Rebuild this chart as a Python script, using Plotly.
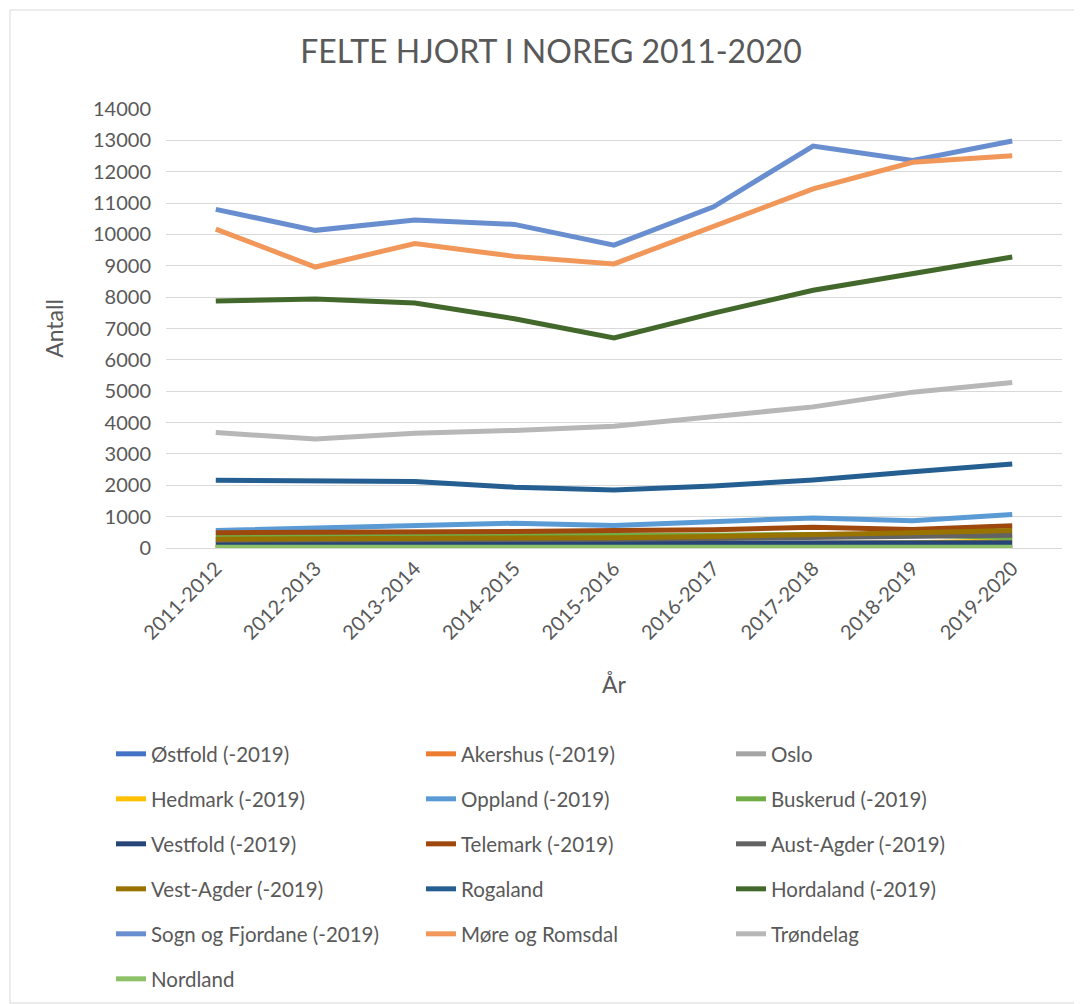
import plotly.graph_objects as go

seasons = ["2011-2012", "2012-2013", "2013-2014", "2014-2015", "2015-2016",
           "2016-2017", "2017-2018", "2018-2019", "2019-2020"]

ostfold = [0, 0, 0, 0, 0, 0, 0, 0, 0]
akershus = [2, 2, 2, 3, 3, 3, 4, 4, 5]
oslo = [0, 0, 0, 0, 0, 0, 0, 0, 0]
hedmark = [60, 70, 80, 90, 100, 120, 140, 170, 230]
oppland = [560, 640, 720, 790, 720, 850, 960, 870, 1070]
buskerud = [380, 380, 390, 400, 400, 410, 430, 420, 330]
vestfold = [130, 130, 140, 140, 140, 150, 160, 160, 170]
telemark = [490, 500, 500, 530, 560, 580, 660, 590, 710]
aust_agder = [250, 250, 260, 270, 280, 300, 340, 360, 410]
vest_agder = [280, 290, 300, 310, 330, 370, 450, 490, 560]
rogaland = [2160, 2150, 2120, 1940, 1850, 1980, 2170, 2430, 2680]
hordaland = [7880, 7940, 7810, 7310, 6700, 7490, 8220, 8740, 9280]
sogn = [10800, 10130, 10460, 10320, 9660, 10880, 12820, 12360, 12980]
more = [10170, 8960, 9710, 9300, 9060, 10250, 11450, 12300, 12510]
trondelag = [3680, 3480, 3660, 3750, 3880, 4200, 4500, 4970, 5280]
nordland = [20, 20, 20, 20, 20, 20, 20, 20, 20]

series = [
    ("Østfold (-2019)", ostfold, "#4472C4"),
    ("Akershus (-2019)", akershus, "#ED7D31"),
    ("Oslo", oslo, "#A5A5A5"),
    ("Hedmark (-2019)", hedmark, "#FFC000"),
    ("Oppland (-2019)", oppland, "#5B9BD5"),
    ("Buskerud (-2019)", buskerud, "#70AD47"),
    ("Vestfold (-2019)", vestfold, "#264478"),
    ("Telemark (-2019)", telemark, "#9E480E"),
    ("Aust-Agder (-2019)", aust_agder, "#636363"),
    ("Vest-Agder (-2019)", vest_agder, "#997300"),
    ("Rogaland", rogaland, "#255E91"),
    ("Hordaland (-2019)", hordaland, "#43682B"),
    ("Sogn og Fjordane (-2019)", sogn, "#698ED0"),
    ("Møre og Romsdal", more, "#F1975A"),
    ("Trøndelag", trondelag, "#B7B7B7"),
    ("Nordland", nordland, "#8CC168"),
]

FONT = "Lato"
TXT = "#595959"

fig = go.Figure()
for i, (name, vals, col) in enumerate(series):
    row = i // 3
    leg = "legend" if row == 0 else f"legend{row + 1}"
    fig.add_trace(go.Scatter(
        x=seasons, y=vals, name=name, mode="lines",
        line=dict(color=col, width=5),
        legend=leg,
    ))

# page has an 8px body margin; figure coords = page coords - 8
OFF = 8
W, H = 1082 - OFF, 1004 - OFF
L = 166 - OFF
T = 109 - OFF
plot_bottom = 548 - OFF
plot_right = 1062 - OFF
R = W - plot_right
B = H - plot_bottom
pw = W - L - R
ph = H - T - B

def px_x(p):
    return (p - OFF - L) / pw

def px_y(p):
    return (H - B - (p - OFF)) / ph

legends = {}
row_y = [754, 799, 844, 889, 934, 979]
for r, yy in enumerate(row_y):
    key = "legend" if r == 0 else f"legend{r + 1}"
    legends[key] = dict(
        orientation="h", x=px_x(111), xanchor="left",
        y=px_y(yy), yanchor="middle",
        font=dict(family=FONT, size=20.5, color=TXT),
        entrywidth=265, entrywidthmode="pixels",
        bgcolor="rgba(0,0,0,0)", itemsizing="constant",
    )

fig.update_layout(
    width=W, height=H,
    margin=dict(l=L, r=R, t=T, b=B, autoexpand=False),
    paper_bgcolor="white", plot_bgcolor="white",
    title=dict(text="FELTE HJORT I NOREG 2011-2020", x=(551 - OFF) / W, xref="container",
               xanchor="center", y=1 - (52 - OFF) / H, yanchor="middle",
               font=dict(family=FONT, size=32, color=TXT)),
    xaxis=dict(
        type="category", tickangle=-45, range=[-0.5, len(seasons) - 0.5],
        tickfont=dict(family=FONT, size=20, color=TXT),
        showgrid=False, showline=True, linecolor="#D9D9D9", linewidth=1,
        ticks="", title=dict(text="År", font=dict(family=FONT, size=23, color=TXT), standoff=34),
    ),
    yaxis=dict(
        range=[0, 14000], dtick=1000, tickformat="d",
        tickfont=dict(family=FONT, size=20, color=TXT),
        showgrid=True, gridcolor="#D9D9D9", gridwidth=1,
        zeroline=False, showline=False, ticks="", ticklabelstandoff=14,
        title=dict(text="Antall", font=dict(family=FONT, size=23, color=TXT), standoff=22),
    ),
    shapes=[dict(type="rect", xref="paper", yref="paper",
                 x0=px_x(10), x1=px_x(1080), y0=px_y(1003), y1=px_y(10),
                 line=dict(color="#D9D9D9", width=1), fillcolor="rgba(0,0,0,0)", layer="below")],
    **legends,
)

fig.write_html("out.html")
